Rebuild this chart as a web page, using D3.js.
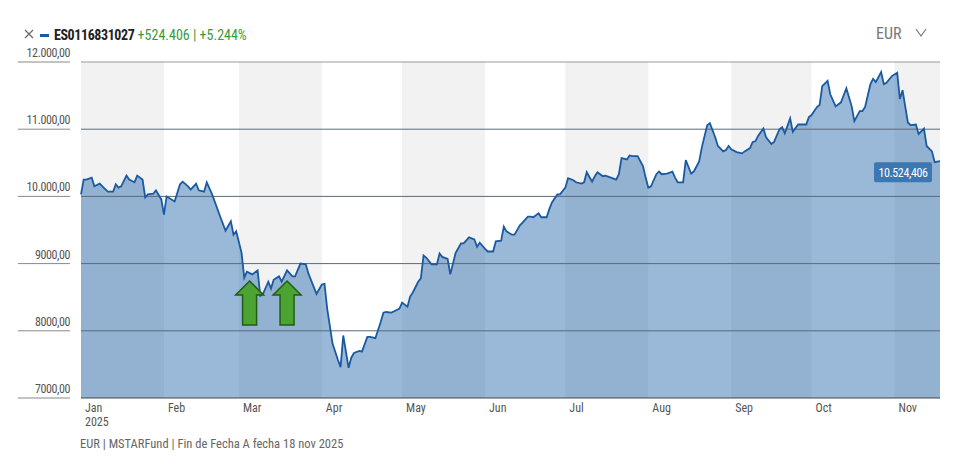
<!DOCTYPE html>
<html><head><meta charset="utf-8">
<script src="https://cdn.jsdelivr.net/npm/d3@7/dist/d3.min.js"></script>
<style>body{margin:0;background:#fff}svg{font-family:"Liberation Sans Narrow","Roboto Condensed",Roboto,sans-serif}</style>
</head><body><svg id="c" width="960" height="468"></svg>
<script>
const dayOffsets=[0,1,2,4,5,7,8,10,12,13,14,15,17,18,20,21,23,24,25,27,28,30,31,32,35,37,38,40,41,43,44,46,47,49,52,54,56,57,58,60,61,62,64,66,67,68,70,71,72,74,75,77,79,80,82,84,85,88,90,91,92,94,96,97,98,100,101,102,104,105,107,108,110,112,113,114,116,118,119,120,122,123,124,126,127,128,129,131,133,134,135,137,138,140,142,143,145,147,148,149,151,152,154,155,157,158,159,161,162,164,165,167,168,169,171,172,174,175,176,178,179,181,182,184,185,187,188,189,191,192,193,195,196,198,200,201,202,204,205,206,208,210,211,212,213,215,216,217,219,221,222,223,225,226,228,229,231,232,234,235,237,238,240,241,242,243,245,247,248,250,251,252,253,255,256,258,259,261,262,263,265,266,268,269,271,272,273,275,276,277,279,280,282,284,286,288,289,291,292,293,295,296,297,299,300,301,303,305,306,307,309,310,312,313,315,316,318,319,321];
const values=[10030,10250,10250,10280,10150,10190,10150,10070,10070,10180,10130,10150,10310,10250,10210,10310,10250,9985,10030,10040,10090,9955,9730,10000,9925,10180,10220,10150,10100,10190,10090,10070,10210,10030,9700,9490,9630,9430,9480,9160,8790,8880,8840,8900,8520,8550,8730,8630,8760,8810,8730,8900,8810,8810,9000,8990,8850,8550,8690,8700,8330,7810,7570,7460,7930,7450,7600,7670,7700,7690,7910,7910,7890,8130,8270,8280,8270,8310,8330,8420,8360,8510,8570,8730,8780,9120,9090,8990,8990,9150,9100,9070,8840,9160,9300,9300,9390,9360,9250,9310,9220,9180,9180,9330,9340,9550,9480,9430,9430,9570,9610,9700,9700,9690,9750,9690,9690,9810,9910,10030,10030,10130,10270,10240,10210,10190,10210,10360,10220,10300,10360,10300,10310,10280,10250,10330,10570,10550,10610,10600,10600,10450,10280,10130,10150,10330,10370,10330,10340,10370,10280,10210,10210,10540,10340,10370,10520,10730,11060,11090,10880,10750,10670,10690,10750,10700,10660,10640,10670,10720,10810,10820,10900,11010,10880,10780,10810,11000,11030,10940,11160,10960,11070,11070,11070,11180,11210,11330,11360,11640,11720,11520,11340,11400,11610,11340,11120,11270,11270,11330,11670,11750,11700,11850,11670,11690,11790,11840,11450,11580,11100,11060,11070,10930,11010,10750,10670,10510,10524];
const yTicks=[7000,8000,9000,10000,11000,12000];
const yTickLabels=["7000,00","8000,00","9000,00","10.000,00","11.000,00","12.000,00"];
const monthLabels=["Jan","Feb","Mar","Apr","May","Jun","Jul","Aug","Sep","Oct","Nov"];
const arrowDays=[63,77];
const lastLabel="10.524,406";

const start=new Date(2025,0,1), end=new Date(2025,10,18);
const data=dayOffsets.map((d,i)=>({date:d3.timeDay.offset(start,d),v:values[i]}));
const svg=d3.select("#c");
const L=81,R=940,T=62,B=398;
const x=d3.scaleTime().domain([start,end]).range([L,R]);
const y=d3.scaleLinear().domain([7000,12000]).range([B,T]);

const months=d3.timeMonth.range(start,end);
months.forEach((m,i)=>{ if(i%2===0){
  const x0=x(m), x1=Math.min(R,x(d3.timeMonth.offset(m,1)));
  svg.append("rect").attr("x",x0).attr("y",T).attr("width",x1-x0).attr("height",B-T).attr("fill","#f2f2f2");
}});
svg.append("path").datum(data).attr("fill","rgba(30,100,170,0.45)")
 .attr("d",d3.area().x(d=>x(d.date)).y0(B).y1(d=>y(d.v)));
yTicks.forEach((t,i)=>{
  svg.append("line").attr("x1",L).attr("x2",R).attr("y1",y(t)).attr("y2",y(t))
   .attr("stroke",i===0?"#444":(i===5?"#999":"#5a6a7a")).attr("stroke-width",1);
  svg.append("line").attr("x1",18).attr("x2",70).attr("y1",y(t)).attr("y2",y(t)).attr("stroke","#888");
  svg.append("text").attr("x",70).attr("y",y(t)-5).attr("text-anchor","end").attr("font-size",12).attr("letter-spacing",-0.4).attr("fill","#555").text(yTickLabels[i]);
});
svg.append("path").datum(data).attr("fill","none").attr("stroke","#1a5aa0").attr("stroke-width",1.8)
 .attr("d",d3.line().x(d=>x(d.date)).y(d=>y(d.v)));
months.forEach((m,i)=>{
  svg.append("text").attr("x",x(m)+4).attr("y",412).attr("font-size",12).attr("fill","#555").text(monthLabels[i]);
});
svg.append("text").attr("x",x(start)+4).attr("y",426).attr("font-size",12).attr("fill","#555").text("2025");
arrowDays.forEach(d=>{
  const cx=x(d3.timeDay.offset(start,d)), ty=281, by=325;
  const p=`M${cx},${ty} L${cx+14},${ty+14} L${cx+7},${ty+14} L${cx+7},${by} L${cx-7},${by} L${cx-7},${ty+14} L${cx-14},${ty+14} Z`;
  svg.append("path").attr("d",p).attr("fill","#4ca332").attr("stroke","#1f5e14").attr("stroke-width",1.5);
});
const last=data[data.length-1];
svg.append("rect").attr("x",874).attr("y",y(last.v)+1).attr("width",58).attr("height",20).attr("rx",2).attr("fill","#3b77b3");
svg.append("text").attr("x",903).attr("y",y(last.v)+16).attr("text-anchor","middle").attr("font-size",12).attr("letter-spacing",-0.4).attr("fill","#fff").text(lastLabel);
svg.append("path").attr("d","M25,30 L33,38 M33,30 L25,38").attr("stroke","#666").attr("stroke-width",1.2);
svg.append("rect").attr("x",40).attr("y",34).attr("width",9).attr("height",3).attr("fill","#1a5aa0");
const h=svg.append("text").attr("x",54).attr("y",40).attr("font-size",14);
h.append("tspan").attr("font-weight","bold").attr("fill","#222").attr("letter-spacing",-0.4).text("ES0116831027");
h.append("tspan").attr("fill","#3a9a3a").text(" +524.406 | +5.244%");
svg.append("text").attr("x",876).attr("y",39).attr("font-size",16).attr("fill","#777").text("EUR");
svg.append("path").attr("d","M916,29 L921,36 L926,29").attr("fill","none").attr("stroke","#777").attr("stroke-width",1.2);
svg.append("text").attr("x",80).attr("y",448).attr("font-size",12.5).attr("fill","#666").text("EUR | MSTARFund | Fin de Fecha A fecha 18 nov 2025");
</script></body></html>
